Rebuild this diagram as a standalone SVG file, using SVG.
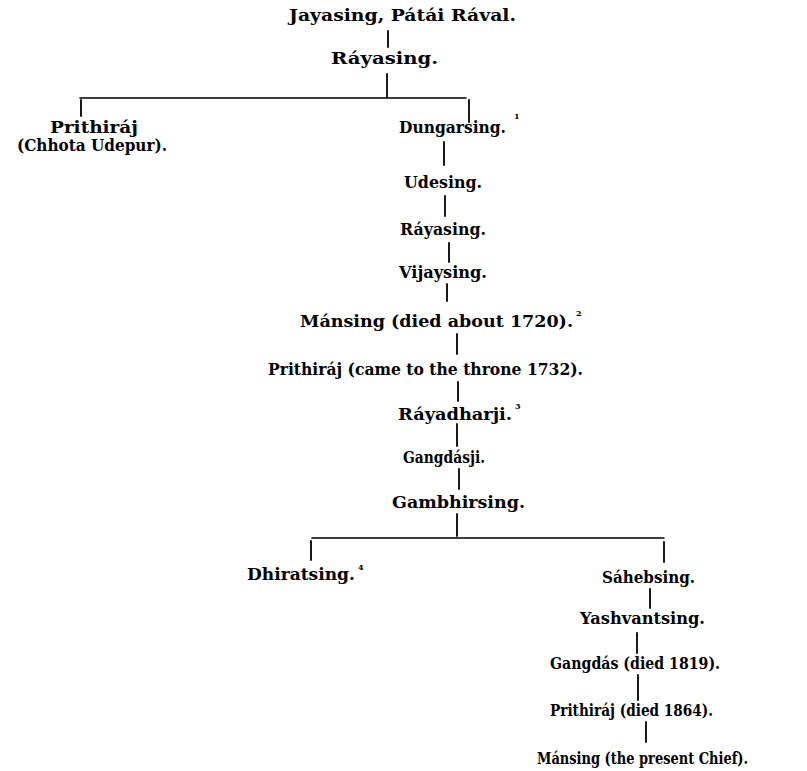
<svg xmlns="http://www.w3.org/2000/svg" width="807" height="771" viewBox="0 0 807 771">
<style>
.t{font-family:"DejaVu Serif","Liberation Serif",serif;font-weight:bold;font-size:16.5px;fill:#000}
.s{font-family:"DejaVu Serif","Liberation Serif",serif;font-weight:bold;font-size:8px;fill:#000}
.c line{stroke:#000;stroke-width:1.8;stroke-linecap:round}
.c line.h{stroke-width:1.6}
</style>
<rect width="807" height="771" fill="#fff"/>
<g class="c" id="connectors">
<line x1="388" y1="31" x2="388" y2="47"/>
<line x1="387" y1="74" x2="387" y2="97"/>
<line class="h" x1="80" y1="98" x2="466" y2="98"/>
<line x1="81" y1="100" x2="81" y2="116"/>
<line x1="469" y1="100" x2="469" y2="122"/>
<line x1="444" y1="142" x2="444" y2="165"/>
<line x1="445" y1="196" x2="445" y2="216"/>
<line x1="449" y1="243" x2="449" y2="262"/>
<line x1="447" y1="284" x2="447" y2="301"/>
<line x1="457" y1="334" x2="457" y2="354"/>
<line x1="458" y1="382" x2="458" y2="401"/>
<line x1="457" y1="424" x2="457" y2="446"/>
<line x1="459" y1="469" x2="459" y2="489"/>
<line x1="457" y1="514" x2="457" y2="536"/>
<line class="h" x1="312" y1="538" x2="664" y2="538"/>
<line x1="311" y1="541" x2="311" y2="560"/>
<line x1="664" y1="542" x2="664" y2="562"/>
<line x1="650" y1="589" x2="650" y2="608"/>
<line x1="637" y1="633" x2="637" y2="653"/>
<line x1="638" y1="675" x2="638" y2="700"/>
<line x1="646" y1="722" x2="646" y2="742"/>
</g>
<g id="n-jayasing"><text class="t" x="289" y="21" textLength="227" lengthAdjust="spacingAndGlyphs">Jayasing, Pátái Rával.</text></g>
<g id="n-rayasing1"><text class="t" x="331" y="64" textLength="107" lengthAdjust="spacingAndGlyphs">Ráyasing.</text></g>
<g id="n-prithiraj-chhota"><text class="t" x="50" y="133" textLength="88" lengthAdjust="spacingAndGlyphs">Prithiráj</text><text class="t" x="17" y="151" textLength="150" lengthAdjust="spacingAndGlyphs">(Chhota Udepur).</text></g>
<g id="n-dungarsing"><text class="t" x="399" y="133" textLength="107" lengthAdjust="spacingAndGlyphs">Dungarsing.</text><text class="s" x="514" y="119">1</text></g>
<g id="n-udesing"><text class="t" x="404" y="188" textLength="78" lengthAdjust="spacingAndGlyphs">Udesing.</text></g>
<g id="n-rayasing2"><text class="t" x="400" y="235" textLength="86" lengthAdjust="spacingAndGlyphs">Ráyasing.</text></g>
<g id="n-vijaysing"><text class="t" x="399" y="278" textLength="88" lengthAdjust="spacingAndGlyphs">Vijaysing.</text></g>
<g id="n-mansing1"><text class="t" x="300" y="327" textLength="273" lengthAdjust="spacingAndGlyphs">Mánsing (died about 1720).</text><text class="s" x="576" y="316">2</text></g>
<g id="n-prithiraj1732"><text class="t" x="268" y="375" textLength="315" lengthAdjust="spacingAndGlyphs">Prithiráj (came to the throne 1732).</text></g>
<g id="n-rayadharji"><text class="t" x="398" y="420" textLength="114" lengthAdjust="spacingAndGlyphs">Ráyadharji.</text><text class="s" x="515" y="409">3</text></g>
<g id="n-gangdasji"><text class="t" x="403" y="463" textLength="82" lengthAdjust="spacingAndGlyphs">Gangdásji.</text></g>
<g id="n-gambhirsing"><text class="t" x="392" y="508" textLength="133" lengthAdjust="spacingAndGlyphs">Gambhirsing.</text></g>
<g id="n-dhiratsing"><text class="t" x="247" y="580" textLength="108" lengthAdjust="spacingAndGlyphs">Dhiratsing.</text><text class="s" x="358" y="570">4</text></g>
<g id="n-sahebsing"><text class="t" x="602" y="583" textLength="93" lengthAdjust="spacingAndGlyphs">Sáhebsing.</text></g>
<g id="n-yashvantsing"><text class="t" x="580" y="624" textLength="125" lengthAdjust="spacingAndGlyphs">Yashvantsing.</text></g>
<g id="n-gangdas"><text class="t" x="550" y="669" textLength="170" lengthAdjust="spacingAndGlyphs">Gangdás (died 1819).</text></g>
<g id="n-prithiraj1864"><text class="t" x="550" y="716" textLength="163" lengthAdjust="spacingAndGlyphs">Prithiráj (died 1864).</text></g>
<g id="n-mansing-present"><text class="t" x="537" y="764" textLength="211" lengthAdjust="spacingAndGlyphs">Mánsing (the present Chief).</text></g>
</svg>
